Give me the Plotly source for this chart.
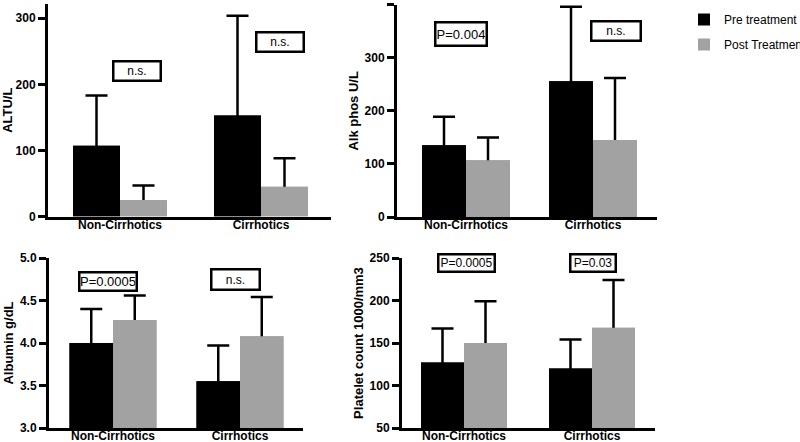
import plotly.graph_objects as go

W, H = 800, 442

categories = ["Non-Cirrhotics", "Cirrhotics"]
series_names = ["Pre treatment", "Post Treatment"]

# ALT (U/L)
alt_pre = [107, 153]
alt_pre_sd = [76, 151]
alt_post = [25, 45]
alt_post_sd = [22, 43]

# Alk phos (U/L)
alk_pre = [135, 256]
alk_pre_sd = [54, 140]
alk_post = [107, 145]
alk_post_sd = [43, 117]

# Albumin (g/dL)
alb_pre = [4.00, 3.55]
alb_pre_sd = [0.40, 0.42]
alb_post = [4.27, 4.08]
alb_post_sd = [0.29, 0.46]

# Platelet count (1000/mm3)
plt_pre = [127, 120]
plt_pre_sd = [40, 34]
plt_post = [150, 168]
plt_post_sd = [49, 56]

# significance labels per panel
alt_sig = ["n.s.", "n.s."]
alk_sig = ["P=0.004", "n.s."]
alb_sig = ["P=0.0005", "n.s."]
plt_sig = ["P=0.0005", "P=0.03"]

FONT = "Liberation Sans, Arial, Helvetica, sans-serif"
BLACK = "#000000"
GREY = "#a2a2a2"


def px_x(p):
    return p / W


def px_y(p):
    return 1 - p / H


panels = [
    dict(xa="x", ya="y", xpx=(48, 331), c=(120, 261), ypx=(4, 216.5), yr=(0, 321.6),
         ytick=[0, 100, 200, 300], fmt="d", title="ALTU/L", bw=47,
         pre=alt_pre, pre_sd=alt_pre_sd, post=alt_post, post_sd=alt_post_sd,
         sig=alt_sig, boxes=[(137, 71, 50, 22, 12), (280, 42, 50, 22, 12)]),
    dict(xa="x2", ya="y2", xpx=(397, 657), c=(466, 593), ypx=(4.7, 217), yr=(0, 400),
         ytick=[0, 100, 200, 300, 400], fmt="d", title="Alk phos U/L", bw=44,
         pre=alk_pre, pre_sd=alk_pre_sd, post=alk_post, post_sd=alk_post_sd,
         sig=alk_sig, boxes=[(461, 34, 54, 26, 13), (616, 31, 52, 22, 12)]),
    dict(xa="x3", ya="y3", xpx=(49, 303), c=(113, 240), ypx=(258, 428), yr=(3, 5),
         ytick=[3.0, 3.5, 4.0, 4.5, 5.0], fmt=".1f", title="Albumin g/dL", bw=43.5,
         pre=alb_pre, pre_sd=alb_pre_sd, post=alb_post, post_sd=alb_post_sd,
         sig=alb_sig, boxes=[(108, 281.5, 60, 21, 13), (235.5, 279.5, 51, 23, 12)]),
    dict(xa="x4", ya="y4", xpx=(402, 655), c=(464, 592), ypx=(258, 428), yr=(50, 250),
         ytick=[50, 100, 150, 200, 250], fmt="d", title="Platelet count 1000/mm3", bw=43,
         pre=plt_pre, pre_sd=plt_pre_sd, post=plt_post, post_sd=plt_post_sd,
         sig=plt_sig, boxes=[(466.5, 263, 59, 20, 12), (593, 263, 48, 20, 12)]),
]

fig = go.Figure()
layout = dict(
    template="none",
    width=W, height=H,
    margin=dict(l=0, r=0, t=0, b=0, autoexpand=False),
    paper_bgcolor="white", plot_bgcolor="white",
    barmode="overlay",
    font=dict(family=FONT, color="black", size=12),
    showlegend=True,
    legend=dict(x=px_x(684), y=px_y(5), xanchor="left", yanchor="top",
                font=dict(family=FONT, size=12, color="black"),
                itemwidth=30, tracegroupgap=6, bgcolor="rgba(0,0,0,0)"),
    annotations=[],
)

for i, p in enumerate(panels):
    unit = p["c"][1] - p["c"][0]
    left = -(p["c"][0] - p["xpx"][0]) / unit
    right = 1 + (p["xpx"][1] - p["c"][1]) / unit
    w = p["bw"] / unit
    # the lower end of each (upper-only) error bar is tucked inside its bar
    tuck = 0.025 * (p["yr"][1] - p["yr"][0])
    series = [
        (series_names[0], p["pre"], p["pre_sd"], BLACK, -w),
        (series_names[1], p["post"], p["post_sd"], GREY, 0.0),
    ]
    for name, vals, sds, col, off in series:
        fig.add_trace(go.Bar(
            x=categories, y=vals, name=name,
            xaxis=p["xa"], yaxis=p["ya"],
            width=w, offset=off,
            marker=dict(color=col, line=dict(width=0)),
            error_y=dict(type="data", array=sds, arrayminus=[tuck] * len(sds), symmetric=False,
                         color="black", thickness=2.5, width=11),
            showlegend=(i == 0), legendgroup=name,
            hoverinfo="skip",
        ))
    for name, vals, sds, col, off in series:
        fig.add_trace(go.Bar(
            x=categories, y=vals, name=name,
            xaxis=p["xa"], yaxis=p["ya"],
            width=w, offset=off,
            marker=dict(color=col, line=dict(width=0)),
            showlegend=False, legendgroup=name,
            hoverinfo="skip",
        ))
    xk = "xaxis" + ("" if i == 0 else str(i + 1))
    yk = "yaxis" + ("" if i == 0 else str(i + 1))
    layout[xk] = dict(
        domain=[px_x(p["xpx"][0]), px_x(p["xpx"][1])],
        anchor=p["ya"], type="category", range=[left, right],
        showline=True, linecolor="black", linewidth=3,
        ticks="", showgrid=False, zeroline=False, automargin=False,
        ticklabelstandoff=-5,
        tickfont=dict(family=FONT, size=12, weight="bold", color="black"),
        fixedrange=True,
    )
    layout[yk] = dict(
        domain=[px_y(p["ypx"][1]), px_y(p["ypx"][0])],
        anchor=p["xa"], range=list(p["yr"]),
        tickvals=p["ytick"], tickformat=p["fmt"],
        showline=True, linecolor="black", linewidth=3,
        ticks="outside", ticklen=7, tickwidth=2.5, tickcolor="black",
        showgrid=False, zeroline=False, automargin=False,
        tickfont=dict(family=FONT, size=12, weight="bold", color="black"),
        title=dict(text=p["title"], standoff=4,
                   font=dict(family=FONT, size=13, weight="bold", color="black")),
        fixedrange=True,
    )
    for txt, (cx, cy, bw, bh, fs) in zip(p["sig"], p["boxes"]):
        bwid = 2.5
        layout["annotations"].append(dict(
            text=txt, xref="paper", yref="paper",
            x=px_x(cx), y=px_y(cy), xanchor="center", yanchor="middle",
            showarrow=False, bgcolor="white", bordercolor="black",
            borderwidth=bwid, borderpad=0,
            width=bw - 2 * bwid, height=bh - 2 * bwid,
            font=dict(family=FONT, size=fs, color="black"),
        ))

fig.update_layout(**layout)
fig.write_html(
    "out.html",
    config={"displayModeBar": False},
    post_script="document.body.style.margin='0';document.body.style.overflow='hidden';",
)
